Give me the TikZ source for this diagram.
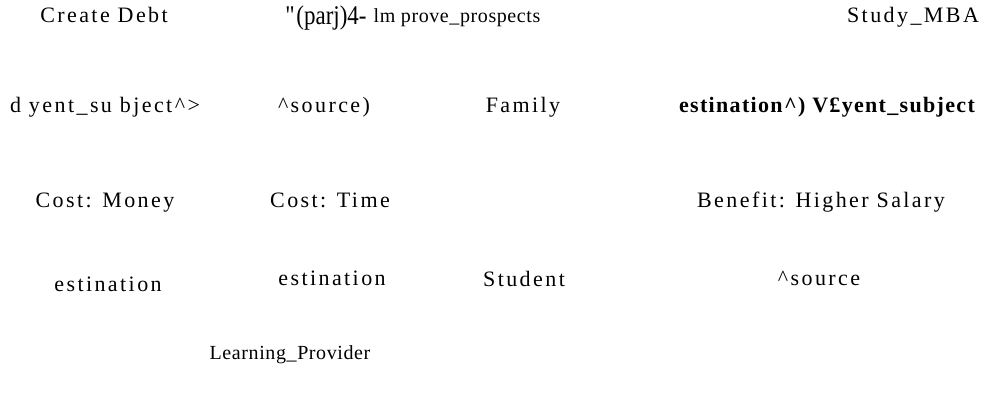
\documentclass[tikz,border=0pt]{standalone}
\usepackage{fontspec}
\setmainfont{Liberation Serif}
\newfontfamily\spacedfont[LetterSpace=11]{Liberation Serif}
\newfontfamily\tightfont[LetterSpace=3]{Liberation Serif}
\newfontfamily\tallfont[FakeStretch=0.85]{Liberation Serif}
\newfontfamily\boldspaced[LetterSpace=6]{Liberation Serif}
\usetikzlibrary{positioning}
\tikzset{
  every node/.style={inner sep=0pt, anchor=base},
  term/.style={font=\fontsize{22}{24}\spacedfont},
  smallterm/.style={font=\fontsize{20}{22}\tightfont},
  garble/.style={font=\fontsize{27}{29}\tallfont},
  boldterm/.style={font=\fontsize{22}{24}\boldspaced\bfseries}
}
\begin{document}
\begin{tikzpicture}[x=1pt,y=-1pt]
\useasboundingbox (0,0) rectangle (990,392);

% Top row: action and goal
\node[term] (debt) at (104,22) {Create Debt};
\node[garble] (parj) at (326,24) {\textquotedbl(parj)4-};
\node[smallterm] (improve) at (457,22) {lm prove\_prospects};
\node[term] (mba) at (913,22) {Study\_MBA};

% Second row: relation fragments
\node[term] (dyent) at (105,112) {d yent\_su bject\textasciicircum>};
\node[term] (src) at (324,112) {\textasciicircum source)};
\node[term] (family) at (523,112) {Family};
\node[boldterm] (dest) at (827,112) {estination\textasciicircum) V£yent\_subject};

% Third row: costs and benefit
\node[term] (money) at (105,207) {Cost: Money};
\node[term] (time) at (330,207) {Cost: Time};
\node[term] (salary) at (821,207) {Benefit: Higher Salary};

% Fourth row: participants
\node[term] (est1) at (108,291) {estination};
\node[term] (est2) at (332,285) {estination};
\node[term] (student) at (524,286) {Student};
\node[term] (src2) at (819,285) {\textasciicircum source};

% Bottom row
\node[smallterm] (provider) at (290,359) {Learning\_Provider};

\end{tikzpicture}
\end{document}
